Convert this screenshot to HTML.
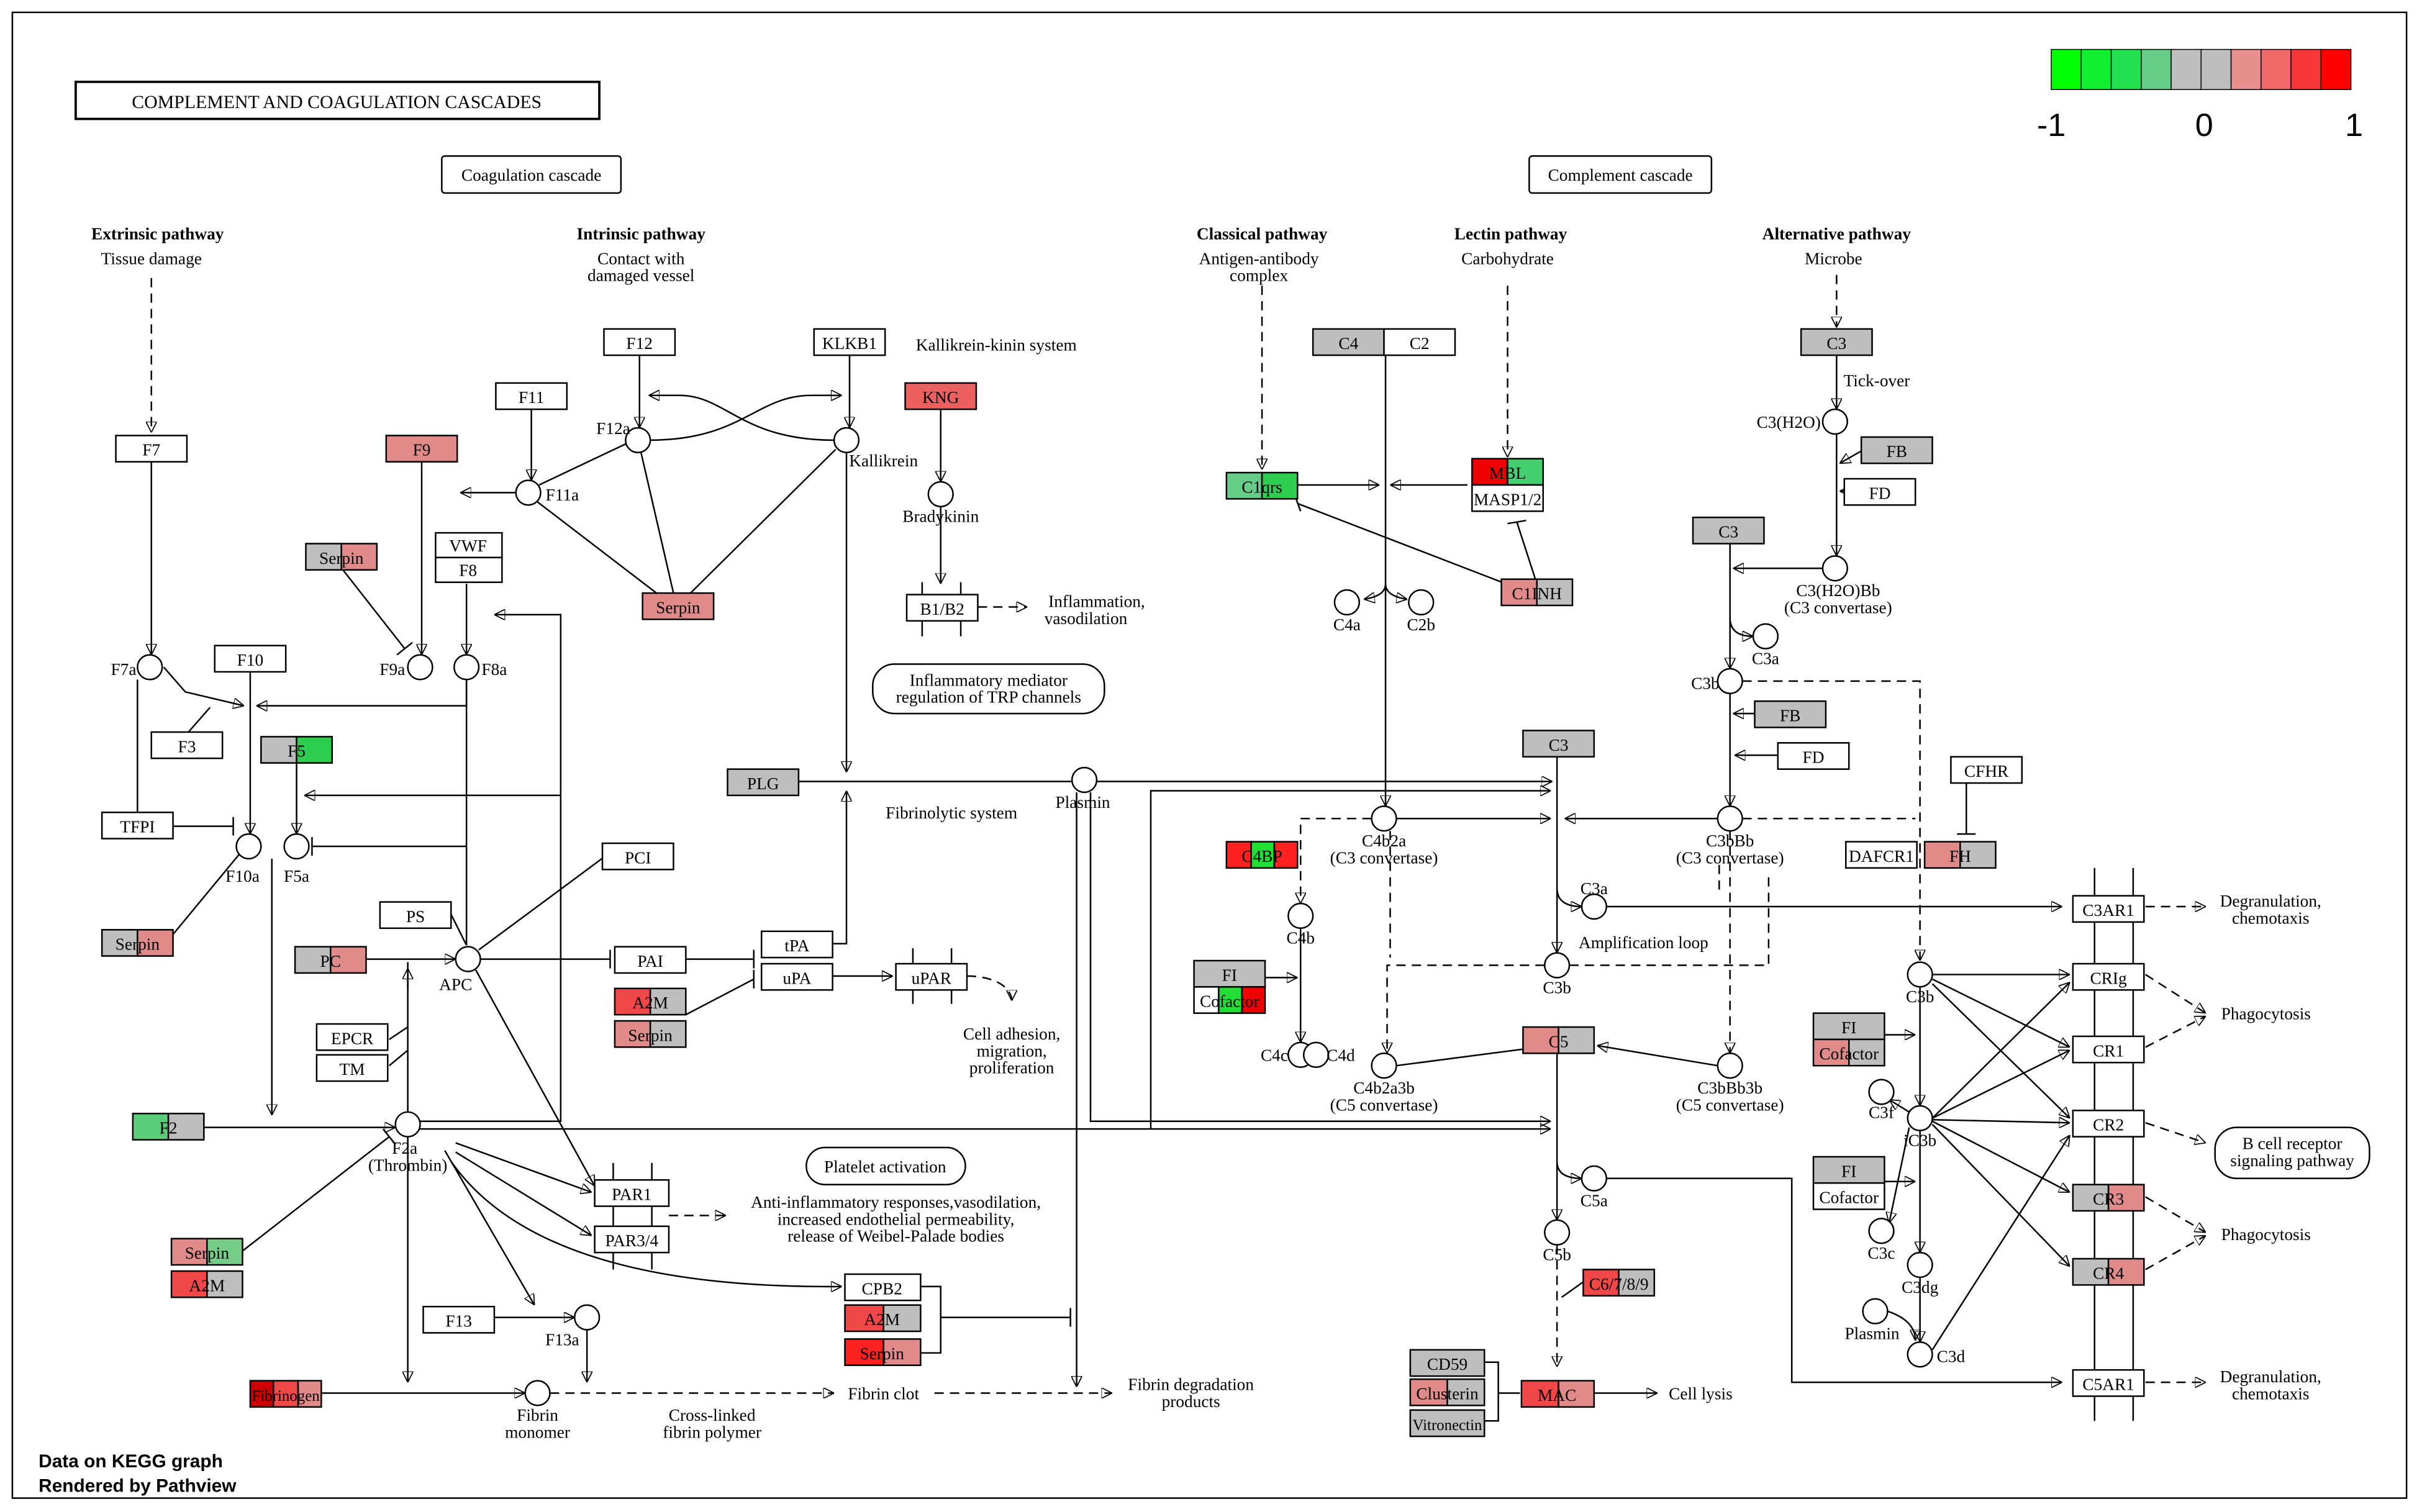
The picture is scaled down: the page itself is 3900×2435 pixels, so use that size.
<!DOCTYPE html>
<html><head><meta charset="utf-8"><style>
html,body{margin:0;padding:0;background:#fff}
svg{display:block}
text{font-family:"Liberation Serif",serif;font-size:11px;fill:#000}
.b{font-weight:bold}
.c{text-anchor:middle}
.s{font-family:"Liberation Sans",sans-serif}
line,polyline,path{stroke:#000;stroke-width:1;fill:none}
.d{stroke-dasharray:6,4}
.bx{stroke:#000;stroke-width:1}
circle{fill:#fff;stroke:#000;stroke-width:1}
</style></head><body>
<svg width="3900" height="2435" viewBox="0 0 1568 979" preserveAspectRatio="none" xmlns="http://www.w3.org/2000/svg">
<defs><marker id="a" viewBox="0 0 10 10" refX="10" refY="5" markerWidth="7" markerHeight="7" orient="auto"><path d="M0,0L10,5L0,10z" fill="#000" stroke="none"/></marker></defs>
<rect x="0" y="0" width="1568" height="979" fill="#fff"/>
<rect x="8" y="8" width="1550" height="962" fill="none" stroke="#000"/>
<rect x="49" y="53" width="339" height="24" fill="#fff" stroke="#000" stroke-width="1.5"/>
<text x="218" y="70" class="c" style="font-size:12px">COMPLEMENT AND COAGULATION CASCADES</text>
<!-- legend -->
<g stroke="#000" stroke-width="0.6">
<rect x="1328" y="32" width="19.4" height="26" fill="#00ff00"/><rect x="1347.4" y="32" width="19.4" height="26" fill="#11f030"/><rect x="1366.8" y="32" width="19.4" height="26" fill="#22e050"/><rect x="1386.2" y="32" width="19.4" height="26" fill="#66cc88"/><rect x="1405.6" y="32" width="19.4" height="26" fill="#bebebe"/><rect x="1425" y="32" width="19.4" height="26" fill="#bebebe"/><rect x="1444.4" y="32" width="19.4" height="26" fill="#e89090"/><rect x="1463.8" y="32" width="19.4" height="26" fill="#f06868"/><rect x="1483.2" y="32" width="19.4" height="26" fill="#f83838"/><rect x="1502.6" y="32" width="19.4" height="26" fill="#ff0000"/>
</g>
<text x="1328" y="88" class="c s" style="font-size:21px">-1</text><text x="1427" y="88" class="c s" style="font-size:21px">0</text><text x="1524" y="88" class="c s" style="font-size:21px">1</text>
<rect x="286" y="101" width="116" height="24" rx="2" fill="#fff" stroke="#000"/><text x="344" y="117" class="c">Coagulation cascade</text>
<rect x="990" y="101" width="118" height="24" rx="2" fill="#fff" stroke="#000"/><text x="1049" y="117" class="c">Complement cascade</text>
<text x="102" y="155" class="c b">Extrinsic pathway</text><text x="98" y="171" class="c">Tissue damage</text>
<text x="415" y="155" class="c b">Intrinsic pathway</text><text x="415" y="171" class="c">Contact with</text><text x="415" y="182" class="c">damaged vessel</text>
<text x="817" y="155" class="c b">Classical pathway</text><text x="815" y="171" class="c">Antigen-antibody</text><text x="815" y="182" class="c">complex</text>
<text x="978" y="155" class="c b">Lectin pathway</text><text x="976" y="171" class="c">Carbohydrate</text>
<text x="1189" y="155" class="c b">Alternative pathway</text><text x="1187" y="171" class="c">Microbe</text>
<!-- membrane bars -->
<g stroke="#888" stroke-width="4"><line x1="1356" y1="562" x2="1356" y2="920"/><line x1="1381" y1="562" x2="1381" y2="920"/>
<line x1="597" y1="377" x2="597" y2="412"/><line x1="622" y1="377" x2="622" y2="412"/>
<line x1="397" y1="753" x2="397" y2="822"/><line x1="422" y1="753" x2="422" y2="822"/>
<line x1="591" y1="614" x2="591" y2="650"/><line x1="616" y1="614" x2="616" y2="650"/></g>
<!-- edges -->
<line x1="98" y1="180" x2="98" y2="280" class="d" marker-end="url(#a)"/>
<line x1="98" y1="299" x2="98" y2="424" marker-end="url(#a)"/>
<polyline points="106,432 120,448 158,457" marker-end="url(#a)"/>
<line x1="122" y1="474" x2="136" y2="458"/>
<line x1="162" y1="435" x2="162" y2="540" marker-end="url(#a)"/>
<polyline points="302,440 302,457 166,457" marker-end="url(#a)"/>
<polyline points="89,440 89,526"/><line x1="112" y1="535" x2="151" y2="535"/><line x1="151" y1="529" x2="151" y2="541"/>
<line x1="344" y1="265" x2="344" y2="311" marker-end="url(#a)"/>
<line x1="406" y1="287" x2="349" y2="314"/>
<line x1="334" y1="319" x2="298" y2="319" marker-end="url(#a)"/>
<line x1="273" y1="299" x2="273" y2="424" marker-end="url(#a)"/>
<line x1="302" y1="378" x2="302" y2="424" marker-end="url(#a)"/>
<line x1="222" y1="369" x2="262" y2="420"/><line x1="257" y1="424" x2="267" y2="416"/>
<line x1="348" y1="325" x2="425" y2="384"/><line x1="415" y1="293" x2="436" y2="384"/><line x1="541" y1="291" x2="447" y2="384"/>
<line x1="414" y1="230" x2="414" y2="277" marker-end="url(#a)"/>
<line x1="550" y1="230" x2="550" y2="277" marker-end="url(#a)"/>
<line x1="440" y1="256" x2="420" y2="256" marker-end="url(#a)"/><line x1="525" y1="256" x2="545" y2="256" marker-end="url(#a)"/>
<path d="M440,256 C470,256 480,285 540,285"/><path d="M421,285 C480,285 490,256 525,256"/>
<line x1="548" y1="293" x2="548" y2="500" marker-end="url(#a)"/>
<line x1="609" y1="265" x2="609" y2="312" marker-end="url(#a)"/>
<line x1="609" y1="328" x2="609" y2="378" marker-end="url(#a)"/>
<line x1="633" y1="393" x2="665" y2="393" class="d" marker-end="url(#a)"/>
<line x1="517" y1="506" x2="694" y2="506"/>
<line x1="710" y1="506" x2="1005" y2="506" marker-end="url(#a)"/>
<polyline points="539,611 548,611 548,512" marker-end="url(#a)"/>
<line x1="697" y1="513" x2="697" y2="898" marker-end="url(#a)"/>
<polyline points="706,513 706,726 1004,726" marker-end="url(#a)"/>
<polyline points="745,731 745,512 1004,512" marker-end="url(#a)"/>
<line x1="272" y1="731" x2="1004" y2="731" marker-end="url(#a)"/>
<line x1="208" y1="902" x2="340" y2="902" marker-end="url(#a)"/>
<line x1="356" y1="902" x2="540" y2="902" class="d" marker-end="url(#a)"/>
<line x1="605" y1="902" x2="720" y2="902" class="d" marker-end="url(#a)"/>
<line x1="320" y1="853" x2="372" y2="853" marker-end="url(#a)"/>
<line x1="380" y1="861" x2="380" y2="895" marker-end="url(#a)"/>
<line x1="264" y1="736" x2="264" y2="895" marker-end="url(#a)"/>
<line x1="288" y1="745" x2="346" y2="845" marker-end="url(#a)"/>
<polyline points="264,720 264,623"/><line x1="264" y1="640" x2="264" y2="627" marker-end="url(#a)"/>
<line x1="237" y1="621" x2="295" y2="621" marker-end="url(#a)"/>
<line x1="252" y1="673" x2="264" y2="665"/><line x1="252" y1="690" x2="264" y2="680"/>
<line x1="132" y1="730" x2="256" y2="730" marker-end="url(#a)"/>
<line x1="176" y1="556" x2="176" y2="722" marker-end="url(#a)"/>
<line x1="112" y1="605" x2="155" y2="553"/>
<line x1="157" y1="810" x2="252" y2="736"/><line x1="248" y1="731" x2="256" y2="741"/>
<line x1="311" y1="621" x2="395" y2="621"/><line x1="395" y1="615" x2="395" y2="627"/>
<line x1="444" y1="621" x2="488" y2="621"/><line x1="488" y1="615" x2="488" y2="627"/>
<line x1="444" y1="657" x2="488" y2="634"/><line x1="488" y1="628" x2="488" y2="640"/>
<line x1="292" y1="592" x2="302" y2="612"/><line x1="391" y1="555" x2="310" y2="615"/>
<polyline points="302,612 302,548 202,548"/><line x1="202" y1="542" x2="202" y2="554"/>
<line x1="302" y1="548" x2="302" y2="440"/>
<line x1="308" y1="628" x2="385" y2="768" marker-end="url(#a)"/>
<line x1="539" y1="632" x2="578" y2="632" marker-end="url(#a)"/>
<path d="M626,632 C645,632 655,640 655,648" class="d" marker-end="url(#a)"/>
<polyline points="272,726 363,726 363,398 320,398" marker-end="url(#a)"/>
<polyline points="363,515 197,515" marker-end="url(#a)"/>
<line x1="192" y1="494" x2="192" y2="540" marker-end="url(#a)"/>
<line x1="295" y1="740" x2="383" y2="772" marker-end="url(#a)"/>
<line x1="295" y1="746" x2="383" y2="800" marker-end="url(#a)"/>
<path d="M292,752 Q350,835 545,833" marker-end="url(#a)"/>
<line x1="433" y1="787" x2="470" y2="787" class="d" marker-end="url(#a)"/>
<polyline points="596,833 609,833 609,876 596,876"/><line x1="609" y1="853" x2="693" y2="853"/><line x1="693" y1="847" x2="693" y2="859"/>
<!-- complement edges -->
<line x1="817" y1="185" x2="817" y2="304" class="d" marker-end="url(#a)"/>
<line x1="840" y1="314" x2="893" y2="314" marker-end="url(#a)"/>
<line x1="950" y1="314" x2="900" y2="314" marker-end="url(#a)"/>
<line x1="976" y1="185" x2="976" y2="296" class="d" marker-end="url(#a)"/>
<line x1="994" y1="375" x2="982" y2="338"/><line x1="976" y1="339" x2="988" y2="337"/>
<line x1="975" y1="378" x2="840" y2="326"/><line x1="838" y1="320" x2="842" y2="331"/>
<line x1="897" y1="230" x2="897" y2="522" marker-end="url(#a)"/>
<path d="M897,378 Q897,386 883,388" marker-end="url(#a)"/><path d="M897,378 Q897,386 911,388" marker-end="url(#a)"/>
<line x1="1189" y1="178" x2="1189" y2="212" class="d" marker-end="url(#a)"/>
<line x1="1189" y1="230" x2="1189" y2="265" marker-end="url(#a)"/>
<line x1="1189" y1="281" x2="1189" y2="360" marker-end="url(#a)"/>
<line x1="1205" y1="292" x2="1191" y2="300" marker-end="url(#a)"/>
<line x1="1194" y1="318" x2="1191" y2="318" marker-end="url(#a)"/>
<line x1="1180" y1="368" x2="1122" y2="368" marker-end="url(#a)"/>
<line x1="1120" y1="352" x2="1120" y2="433" marker-end="url(#a)"/>
<path d="M1120,400 Q1120,412 1135,412" marker-end="url(#a)"/>
<line x1="1120" y1="449" x2="1120" y2="522" marker-end="url(#a)"/>
<line x1="1136" y1="462" x2="1122" y2="462" marker-end="url(#a)"/>
<line x1="1151" y1="489" x2="1123" y2="489" marker-end="url(#a)"/>
<line x1="1112" y1="530" x2="1013" y2="530" marker-end="url(#a)"/>
<line x1="904" y1="530" x2="1004" y2="530" marker-end="url(#a)"/>
<line x1="1008" y1="490" x2="1008" y2="617" marker-end="url(#a)"/>
<path d="M1008,575 Q1008,587 1024,587" marker-end="url(#a)"/>
<line x1="1040" y1="587" x2="1335" y2="587" marker-end="url(#a)"/>
<line x1="1389" y1="587" x2="1428" y2="587" class="d" marker-end="url(#a)"/>
<polyline points="1000,625 898,625 898,682" class="d" marker-end="url(#a)"/>
<polyline points="1016,625 1145,625 1145,565" class="d"/>
<line x1="1120" y1="538" x2="1120" y2="682" class="d" marker-end="url(#a)"/>
<line x1="1113" y1="560" x2="1113" y2="578" class="d"/>
<polyline points="1128,441 1243,441 1243,622" class="d" marker-end="url(#a)"/>
<line x1="1128" y1="530" x2="1240" y2="530" class="d"/>
<polyline points="888,530 842,530 842,585" class="d" marker-end="url(#a)"/>
<line x1="900" y1="538" x2="900" y2="620" class="d"/>
<line x1="842" y1="601" x2="842" y2="675" marker-end="url(#a)"/>
<line x1="819" y1="633" x2="840" y2="633" marker-end="url(#a)"/>
<line x1="1008" y1="682" x2="1008" y2="790" marker-end="url(#a)"/>
<line x1="904" y1="690" x2="1004" y2="677" marker-end="url(#a)"/>
<line x1="1112" y1="690" x2="1034" y2="677" marker-end="url(#a)"/>
<path d="M1008,752 Q1008,763 1024,763" marker-end="url(#a)"/>
<polyline points="1040,763 1160,763 1160,895 1335,895" marker-end="url(#a)"/>
<line x1="1389" y1="895" x2="1428" y2="895" class="d" marker-end="url(#a)"/>
<line x1="1008" y1="806" x2="1008" y2="885" class="d" marker-end="url(#a)"/>
<line x1="1025" y1="830" x2="1011" y2="840"/>
<line x1="1032" y1="902" x2="1073" y2="902" marker-end="url(#a)"/>
<polyline points="961,882 970,882 970,920 961,920"/><line x1="970" y1="902" x2="984" y2="902"/>
<line x1="1251" y1="631" x2="1340" y2="631" marker-end="url(#a)"/>
<line x1="1251" y1="634" x2="1340" y2="678" marker-end="url(#a)"/>
<line x1="1251" y1="637" x2="1340" y2="724" marker-end="url(#a)"/>
<line x1="1243" y1="639" x2="1243" y2="716" marker-end="url(#a)"/>
<line x1="1251" y1="724" x2="1340" y2="636" marker-end="url(#a)"/>
<line x1="1251" y1="724" x2="1340" y2="680" marker-end="url(#a)"/>
<line x1="1251" y1="725" x2="1340" y2="727" marker-end="url(#a)"/>
<line x1="1251" y1="726" x2="1340" y2="772" marker-end="url(#a)"/>
<line x1="1251" y1="728" x2="1340" y2="820" marker-end="url(#a)"/>
<line x1="1236" y1="720" x2="1223" y2="712" marker-end="url(#a)"/>
<line x1="1236" y1="730" x2="1223" y2="792" marker-end="url(#a)"/>
<line x1="1243" y1="732" x2="1243" y2="811" marker-end="url(#a)"/>
<line x1="1243" y1="827" x2="1243" y2="869" marker-end="url(#a)"/>
<path d="M1222,849 Q1240,855 1240,868" marker-end="url(#a)"/>
<line x1="1251" y1="874" x2="1340" y2="735" marker-end="url(#a)"/>
<line x1="1220" y1="670" x2="1240" y2="670" marker-end="url(#a)"/>
<line x1="1220" y1="765" x2="1240" y2="765" marker-end="url(#a)"/>
<line x1="1273" y1="507" x2="1273" y2="540"/><line x1="1267" y1="540" x2="1279" y2="540"/>
<line x1="1389" y1="631" x2="1428" y2="656" class="d" marker-end="url(#a)"/>
<line x1="1389" y1="678" x2="1428" y2="658" class="d" marker-end="url(#a)"/>
<line x1="1389" y1="727" x2="1428" y2="740" class="d" marker-end="url(#a)"/>
<line x1="1389" y1="775" x2="1428" y2="798" class="d" marker-end="url(#a)"/>
<line x1="1389" y1="822" x2="1428" y2="800" class="d" marker-end="url(#a)"/>
<!-- boxes -->
<g class="bx" stroke="#000">
<rect x="75" y="282" width="46" height="17" fill="#fff"/>
<rect x="250" y="282" width="46" height="17" fill="#e08a8a"/>
<rect x="321" y="248" width="46" height="17" fill="#fff"/>
<rect x="391" y="213" width="46" height="17" fill="#fff"/>
<rect x="527" y="213" width="46" height="17" fill="#fff"/>
<rect x="586" y="248" width="46" height="17" fill="#ec6060"/>
<rect x="198" y="352" width="23" height="17" fill="#bebebe"/><rect x="221" y="352" width="23" height="17" fill="#e08a8a"/>
<rect x="282" y="345" width="43" height="16" fill="#fff"/><rect x="282" y="361" width="43" height="16" fill="#fff"/>
<rect x="416" y="384" width="46" height="17" fill="#e08a8a"/>
<rect x="139" y="418" width="46" height="17" fill="#fff"/>
<rect x="98" y="474" width="46" height="17" fill="#fff"/>
<rect x="169" y="477" width="23" height="17" fill="#bebebe"/><rect x="192" y="477" width="23" height="17" fill="#2ecc50"/>
<rect x="66" y="526" width="46" height="17" fill="#fff"/>
<rect x="246" y="584" width="46" height="17" fill="#fff"/>
<rect x="390" y="546" width="46" height="17" fill="#fff"/>
<rect x="66" y="602" width="23" height="17" fill="#bebebe"/><rect x="89" y="602" width="23" height="17" fill="#e08a8a"/>
<rect x="191" y="613" width="23" height="17" fill="#bebebe"/><rect x="214" y="613" width="23" height="17" fill="#e08a8a"/>
<rect x="398" y="613" width="46" height="17" fill="#fff"/>
<rect x="398" y="640" width="23" height="17" fill="#f04848"/><rect x="421" y="640" width="23" height="17" fill="#bebebe"/>
<rect x="398" y="661" width="23" height="17" fill="#e08a8a"/><rect x="421" y="661" width="23" height="17" fill="#bebebe"/>
<rect x="493" y="603" width="46" height="17" fill="#fff"/><rect x="493" y="624" width="46" height="17" fill="#fff"/>
<rect x="580" y="624" width="46" height="17" fill="#fff"/>
<rect x="587" y="385" width="46" height="17" fill="#fff"/>
<rect x="205" y="663" width="46" height="17" fill="#fff"/><rect x="205" y="683" width="46" height="17" fill="#fff"/>
<rect x="86" y="721" width="23" height="17" fill="#5dcc7a"/><rect x="109" y="721" width="23" height="17" fill="#bebebe"/>
<rect x="111" y="802" width="23" height="17" fill="#e08a8a"/><rect x="134" y="802" width="23" height="17" fill="#77cc88"/>
<rect x="111" y="823" width="23" height="17" fill="#f04848"/><rect x="134" y="823" width="23" height="17" fill="#bebebe"/>
<rect x="274" y="846" width="46" height="17" fill="#fff"/>
<rect x="162" y="894" width="15" height="17" fill="#cc0000"/><rect x="177" y="894" width="16" height="17" fill="#f04848"/><rect x="193" y="894" width="15" height="17" fill="#e08a8a"/>
<rect x="385" y="764" width="48" height="17" fill="#fff"/><rect x="385" y="794" width="48" height="17" fill="#fff"/>
<rect x="547" y="825" width="49" height="17" fill="#fff"/>
<rect x="547" y="845" width="25" height="17" fill="#f04848"/><rect x="572" y="845" width="24" height="17" fill="#bebebe"/>
<rect x="547" y="867" width="25" height="17" fill="#ff2020"/><rect x="572" y="867" width="24" height="17" fill="#e08a8a"/>
<rect x="471" y="498" width="46" height="17" fill="#bebebe"/>
<rect x="850" y="213" width="46" height="17" fill="#bebebe"/><rect x="896" y="213" width="46" height="17" fill="#fff"/>
<rect x="1166" y="213" width="46" height="17" fill="#bebebe"/>
<rect x="794" y="306" width="23" height="17" fill="#66cc88"/><rect x="817" y="306" width="23" height="17" fill="#2ecc50"/>
<rect x="953" y="297" width="23" height="17" fill="#ee0000"/><rect x="976" y="297" width="23" height="17" fill="#44d070"/>
<rect x="953" y="314" width="46" height="17" fill="#fff"/>
<rect x="1205" y="283" width="46" height="17" fill="#bebebe"/><rect x="1194" y="310" width="46" height="17" fill="#fff"/>
<rect x="1096" y="335" width="46" height="17" fill="#bebebe"/>
<rect x="972" y="375" width="23" height="17" fill="#e08a8a"/><rect x="995" y="375" width="23" height="17" fill="#bebebe"/>
<rect x="1136" y="454" width="46" height="17" fill="#bebebe"/><rect x="1151" y="481" width="46" height="17" fill="#fff"/>
<rect x="986" y="473" width="46" height="17" fill="#bebebe"/>
<rect x="1263" y="490" width="46" height="17" fill="#fff"/>
<rect x="1195" y="545" width="46" height="17" fill="#fff"/>
<rect x="1246" y="545" width="23" height="17" fill="#e08a8a"/><rect x="1269" y="545" width="23" height="17" fill="#bebebe"/>
<rect x="794" y="545" width="16" height="17" fill="#ff2020"/><rect x="810" y="545" width="15" height="17" fill="#22dd33"/><rect x="825" y="545" width="15" height="17" fill="#ff2020"/>
<rect x="773" y="622" width="46" height="17" fill="#bebebe"/>
<rect x="773" y="639" width="16" height="17" fill="#fff"/><rect x="789" y="639" width="15" height="17" fill="#22dd33"/><rect x="804" y="639" width="15" height="17" fill="#ee0000"/>
<rect x="986" y="665" width="23" height="17" fill="#e08a8a"/><rect x="1009" y="665" width="23" height="17" fill="#bebebe"/>
<rect x="1174" y="656" width="46" height="17" fill="#bebebe"/>
<rect x="1174" y="673" width="23" height="17" fill="#e08a8a"/><rect x="1197" y="673" width="23" height="17" fill="#bebebe"/>
<rect x="1174" y="749" width="46" height="17" fill="#bebebe"/><rect x="1174" y="766" width="46" height="17" fill="#fff"/>
<rect x="1025" y="822" width="23" height="17" fill="#f04848"/><rect x="1048" y="822" width="23" height="17" fill="#bebebe"/>
<rect x="913" y="874" width="48" height="17" fill="#bebebe"/>
<rect x="913" y="893" width="24" height="17" fill="#e08a8a"/><rect x="937" y="893" width="24" height="17" fill="#bebebe"/>
<rect x="913" y="913" width="48" height="17" fill="#bebebe"/>
<rect x="985" y="894" width="24" height="17" fill="#f04848"/><rect x="1009" y="894" width="23" height="17" fill="#e08a8a"/>
<rect x="1342" y="580" width="46" height="17" fill="#fff"/>
<rect x="1342" y="624" width="46" height="17" fill="#fff"/>
<rect x="1342" y="671" width="46" height="17" fill="#fff"/>
<rect x="1342" y="719" width="46" height="17" fill="#fff"/>
<rect x="1342" y="767" width="23" height="17" fill="#bebebe"/><rect x="1365" y="767" width="23" height="17" fill="#e08a8a"/>
<rect x="1342" y="815" width="23" height="17" fill="#bebebe"/><rect x="1365" y="815" width="23" height="17" fill="#e08a8a"/>
<rect x="1342" y="887" width="46" height="17" fill="#fff"/>
</g>
<g>
<rect x="565" y="430" width="150" height="32" rx="14" fill="#fff" stroke="#000"/>
<rect x="522" y="743" width="103" height="24" rx="12" fill="#fff" stroke="#000"/>
<rect x="1434" y="730" width="100" height="33" rx="14" fill="#fff" stroke="#000"/>
</g>
<!-- box labels -->
<g class="lbl">
<text x="98" y="295" class="c">F7</text><text x="273" y="295" class="c">F9</text><text x="344" y="261" class="c">F11</text>
<text x="414" y="226" class="c">F12</text><text x="550" y="226" class="c">KLKB1</text><text x="609" y="261" class="c">KNG</text>
<text x="221" y="365" class="c">Serpin</text><text x="303" y="357" class="c">VWF</text><text x="303" y="373" class="c">F8</text>
<text x="439" y="397" class="c">Serpin</text><text x="162" y="431" class="c">F10</text><text x="121" y="487" class="c">F3</text>
<text x="192" y="490" class="c">F5</text><text x="89" y="539" class="c">TFPI</text><text x="269" y="597" class="c">PS</text>
<text x="413" y="559" class="c">PCI</text><text x="89" y="615" class="c">Serpin</text><text x="214" y="626" class="c">PC</text>
<text x="421" y="626" class="c">PAI</text><text x="421" y="653" class="c">A2M</text><text x="421" y="674" class="c">Serpin</text>
<text x="516" y="616" class="c">tPA</text><text x="516" y="637" class="c">uPA</text><text x="603" y="637" class="c">uPAR</text>
<text x="610" y="398" class="c">B1/B2</text><text x="228" y="676" class="c">EPCR</text><text x="228" y="696" class="c">TM</text>
<text x="109" y="734" class="c">F2</text><text x="134" y="815" class="c">Serpin</text><text x="134" y="836" class="c">A2M</text>
<text x="297" y="859" class="c">F13</text><text x="185" y="907" class="c" style="font-size:10px">Fibrinogen</text>
<text x="409" y="777" class="c">PAR1</text><text x="409" y="807" class="c">PAR3/4</text>
<text x="571" y="838" class="c">CPB2</text><text x="571" y="858" class="c">A2M</text><text x="571" y="880" class="c">Serpin</text>
<text x="494" y="511" class="c">PLG</text>
<text x="873" y="226" class="c">C4</text><text x="919" y="226" class="c">C2</text><text x="1189" y="226" class="c">C3</text>
<text x="817" y="319" class="c">C1qrs</text><text x="976" y="310" class="c">MBL</text><text x="976" y="327" class="c">MASP1/2</text>
<text x="1228" y="296" class="c">FB</text><text x="1217" y="323" class="c">FD</text><text x="1119" y="348" class="c">C3</text>
<text x="995" y="388" class="c">C1INH</text><text x="1159" y="467" class="c">FB</text><text x="1174" y="494" class="c">FD</text>
<text x="1009" y="486" class="c">C3</text><text x="1286" y="503" class="c">CFHR</text><text x="1218" y="558" class="c">DAFCR1</text>
<text x="1269" y="558" class="c">FH</text><text x="817" y="558" class="c">C4BP</text>
<text x="796" y="635" class="c">FI</text><text x="796" y="652" class="c">Cofactor</text>
<text x="1009" y="678" class="c">C5</text><text x="1197" y="669" class="c">FI</text><text x="1197" y="686" class="c">Cofactor</text>
<text x="1197" y="762" class="c">FI</text><text x="1197" y="779" class="c">Cofactor</text>
<text x="1048" y="835" class="c">C6/7/8/9</text><text x="937" y="887" class="c">CD59</text><text x="937" y="906" class="c">Clusterin</text>
<text x="937" y="926" class="c" style="font-size:10px">Vitronectin</text><text x="1008" y="907" class="c">MAC</text>
<text x="1365" y="593" class="c">C3AR1</text><text x="1365" y="637" class="c">CRIg</text><text x="1365" y="684" class="c">CR1</text>
<text x="1365" y="732" class="c">CR2</text><text x="1365" y="780" class="c">CR3</text><text x="1365" y="828" class="c">CR4</text><text x="1365" y="900" class="c">C5AR1</text>
</g>
<!-- circles -->
<g>
<circle cx="413" cy="285" r="8"/><circle cx="548" cy="285" r="8"/><circle cx="342" cy="319" r="8"/><circle cx="609" cy="320" r="8"/>
<circle cx="97" cy="432" r="8"/><circle cx="272" cy="432" r="8"/><circle cx="302" cy="432" r="8"/><circle cx="161" cy="548" r="8"/><circle cx="192" cy="548" r="8"/>
<circle cx="303" cy="621" r="8"/><circle cx="264" cy="728" r="8"/><circle cx="380" cy="853" r="8"/><circle cx="348" cy="902" r="8"/><circle cx="702" cy="505" r="8"/>
<circle cx="872" cy="390" r="8"/><circle cx="920" cy="390" r="8"/><circle cx="1188" cy="273" r="8"/><circle cx="1188" cy="368" r="8"/>
<circle cx="1143" cy="412" r="8"/><circle cx="1120" cy="441" r="8"/><circle cx="1120" cy="530" r="8"/><circle cx="896" cy="530" r="8"/>
<circle cx="842" cy="593" r="8"/><circle cx="1032" cy="587" r="8"/><circle cx="1008" cy="625" r="8"/><circle cx="1243" cy="631" r="8"/>
<circle cx="842" cy="683" r="8"/><circle cx="852" cy="683" r="8"/><circle cx="896" cy="690" r="8"/><circle cx="1120" cy="690" r="8"/>
<circle cx="1032" cy="763" r="8"/><circle cx="1008" cy="798" r="8"/><circle cx="1243" cy="724" r="8"/><circle cx="1218" cy="707" r="8"/>
<circle cx="1218" cy="797" r="8"/><circle cx="1243" cy="819" r="8"/><circle cx="1214" cy="849" r="8"/><circle cx="1243" cy="877" r="8"/>
</g>
<!-- circle labels / others -->
<text x="397" y="281" class="c">F12a</text><text x="572" y="302" class="c">Kallikrein</text><text x="364" y="324" class="c">F11a</text>
<text x="609" y="338" class="c">Bradykinin</text><text x="80" y="437" class="c">F7a</text><text x="254" y="437" class="c">F9a</text><text x="320" y="437" class="c">F8a</text>
<text x="157" y="571" class="c">F10a</text><text x="192" y="571" class="c">F5a</text><text x="295" y="641" class="c">APC</text>
<text x="262" y="747" class="c">F2a</text><text x="264" y="758" class="c">(Thrombin)</text><text x="364" y="871" class="c">F13a</text>
<text x="348" y="920" class="c">Fibrin</text><text x="348" y="931" class="c">monomer</text>
<text x="461" y="920" class="c">Cross-linked</text><text x="461" y="931" class="c">fibrin polymer</text>
<text x="572" y="906" class="c">Fibrin clot</text><text x="771" y="900" class="c">Fibrin degradation</text><text x="771" y="911" class="c">products</text>
<text x="701" y="523" class="c">Plasmin</text><text x="616" y="530" class="c">Fibrinolytic system</text>
<text x="645" y="227" class="c">Kallikrein-kinin system</text>
<text x="710" y="393" class="c">Inflammation,</text><text x="703" y="404" class="c">vasodilation</text>
<text x="640" y="444" class="c">Inflammatory mediator</text><text x="640" y="455" class="c">regulation of TRP channels</text>
<text x="655" y="673" class="c">Cell adhesion,</text><text x="655" y="684" class="c">migration,</text><text x="655" y="695" class="c">proliferation</text>
<text x="573" y="759" class="c">Platelet activation</text>
<text x="580" y="782" class="c">Anti-inflammatory responses,vasodilation,</text><text x="580" y="793" class="c">increased endothelial permeability,</text><text x="580" y="804" class="c">release of Weibel-Palade bodies</text>
<text x="872" y="408" class="c">C4a</text><text x="920" y="408" class="c">C2b</text><text x="1215" y="250" class="c">Tick-over</text>
<text x="1158" y="277" class="c">C3(H2O)</text><text x="1190" y="386" class="c">C3(H2O)Bb</text><text x="1190" y="397" class="c">(C3 convertase)</text>
<text x="1143" y="430" class="c">C3a</text><text x="1104" y="446" class="c">C3b</text>
<text x="1120" y="548" class="c">C3bBb</text><text x="1120" y="559" class="c">(C3 convertase)</text>
<text x="896" y="548" class="c">C4b2a</text><text x="896" y="559" class="c">(C3 convertase)</text>
<text x="842" y="611" class="c">C4b</text><text x="1032" y="579" class="c">C3a</text><text x="1008" y="643" class="c">C3b</text>
<text x="1064" y="614" class="c">Amplification loop</text>
<text x="1243" y="649" class="c">C3b</text><text x="825" y="687" class="c">C4c</text><text x="868" y="687" class="c">C4d</text>
<text x="896" y="708" class="c">C4b2a3b</text><text x="896" y="719" class="c">(C5 convertase)</text>
<text x="1120" y="708" class="c">C3bBb3b</text><text x="1120" y="719" class="c">(C5 convertase)</text>
<text x="1032" y="781" class="c">C5a</text><text x="1008" y="816" class="c">C5b</text>
<text x="1243" y="742" class="c">iC3b</text><text x="1218" y="724" class="c">C3f</text><text x="1218" y="815" class="c">C3c</text>
<text x="1243" y="837" class="c">C3dg</text><text x="1212" y="867" class="c">Plasmin</text><text x="1243" y="882" class="c" style="">  </text><text x="1263" y="882" class="c">C3d</text>
<text x="1101" y="906" class="c">Cell lysis</text>
<text x="1470" y="587" class="c">Degranulation,</text><text x="1470" y="598" class="c">chemotaxis</text>
<text x="1467" y="660" class="c">Phagocytosis</text><text x="1484" y="744" class="c">B cell receptor</text><text x="1484" y="755" class="c">signaling pathway</text>
<text x="1467" y="803" class="c">Phagocytosis</text>
<text x="1470" y="895" class="c">Degranulation,</text><text x="1470" y="906" class="c">chemotaxis</text>
<text x="25" y="950" class="s b" style="font-size:12px">Data on KEGG graph</text>
<text x="25" y="966" class="s b" style="font-size:12px">Rendered by Pathview</text>
</svg>
</body></html>
